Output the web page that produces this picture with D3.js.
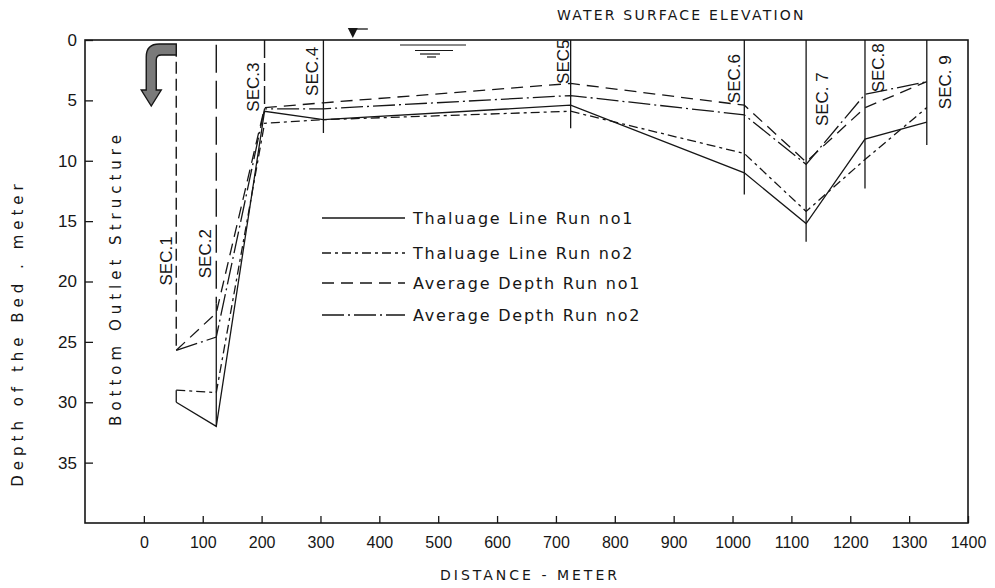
<!DOCTYPE html>
<html><head><meta charset="utf-8">
<script src="https://cdn.jsdelivr.net/npm/d3@7"></script>
<style>body{margin:0;background:#fff} svg{display:block}</style>
</head><body><svg id="c" width="995" height="588"></svg>
<script>
// ---- data ----
const xTicks = [0,100,200,300,400,500,600,700,800,900,1000,1100,1200,1300,1400];
const xTickLabels = ["0","100","200","300","400","500","600","700","800","900","1000","1100","1200","1300","1400"];
const yTicks = [0,5,10,15,20,25,30,35];
const yTickLabels = ["0","5","10","15","20","25","30","35"];
const sectionNames = ["SEC.1","SEC.2","SEC.3","SEC.4","SEC5","SEC.6","SEC. 7","SEC.8","SEC. 9"];
const sectionDist = [55,123,205,305,725,1020,1125,1225,1330];
const sectionBottom = [30,32,5.66,7.7,7.3,12.8,16.7,12.3,8.7];
const thalwegRun1 = [30,32,5.9,6.6,5.4,11.0,15.2,8.2,6.8];
const thalwegRun2 = [29,29.2,6.9,6.6,5.9,9.4,14.2,9.9,5.6];
const avgDepthRun1 = [25.7,22.6,5.6,5.2,3.6,5.4,10.1,5.6,3.45];
const avgDepthRun2 = [25.7,24.6,5.7,5.7,4.6,6.2,10.3,4.5,3.45];
const seriesNames = ["Thaluage Line Run no1","Thaluage Line Run no2","Average Depth Run no1","Average Depth Run no2"];

// ---- chart ----
const svg = d3.select("#c");
const x = d3.scaleLinear().domain([-100,1400]).range([85,968]);
const y = d3.scaleLinear().domain([0,40]).range([40,523]);
const ink = "#161616";

// frame
svg.append("rect").attr("x",x(-100)).attr("y",y(0)).attr("width",x(1400)-x(-100)).attr("height",y(40)-y(0))
  .attr("fill","none").attr("stroke",ink).attr("stroke-width",1.6);

// axes
const ya = svg.append("g").attr("transform",`translate(${x(-100)},0)`)
  .call(d3.axisLeft(y).tickValues(yTicks).tickFormat((d,i)=>yTickLabels[i]).tickSizeInner(-8).tickSizeOuter(0).tickPadding(8));
ya.select(".domain").remove();
ya.selectAll("line").attr("stroke",ink).attr("stroke-width",1.3);
ya.selectAll("text").attr("font-family","Liberation Sans, Arial, sans-serif").attr("font-size",17).attr("fill",ink);

const xa = svg.append("g").attr("transform",`translate(0,${y(40)})`)
  .call(d3.axisBottom(x).tickValues(xTicks).tickFormat((d,i)=>xTickLabels[i]).tickSizeInner(-7).tickSizeOuter(0).tickPadding(14));
xa.select(".domain").remove();
xa.selectAll("line").attr("stroke",ink).attr("stroke-width",1.3);
xa.selectAll("text").attr("font-family","Liberation Sans, Arial, sans-serif").attr("font-size",16).attr("fill",ink);

// axis titles
svg.append("text").attr("x",530).attr("y",580).attr("text-anchor","middle")
  .attr("font-family","DejaVu Sans, sans-serif").attr("font-size",14).attr("letter-spacing",3).attr("fill",ink)
  .text("DISTANCE  -  METER");
svg.append("text").attr("transform","translate(23,333) rotate(-90)").attr("text-anchor","middle")
  .attr("font-family","DejaVu Sans, sans-serif").attr("font-size",15).attr("letter-spacing",5).attr("fill",ink)
  .text("Depth of the Bed . meter");
svg.append("text").attr("transform","translate(121,278) rotate(-90)").attr("text-anchor","middle")
  .attr("font-family","DejaVu Sans, sans-serif").attr("font-size",15).attr("letter-spacing",5).attr("fill",ink)
  .text("Bottom  Outlet  Structure");

// water surface
svg.append("text").attr("x",557).attr("y",20)
  .attr("font-family","DejaVu Sans, sans-serif").attr("font-size",14).attr("letter-spacing",2.2).attr("fill",ink)
  .text("WATER  SURFACE  ELEVATION");
const tx = x(355), ty = y(0);
svg.append("path").attr("d",`M${tx-5},${ty-12}L${tx+5},${ty-12}L${tx},${ty-2}Z`).attr("fill",ink);
svg.append("line").attr("x1",tx+4).attr("x2",tx+15).attr("y1",ty-11).attr("y2",ty-11).attr("stroke",ink).attr("stroke-width",1.3);
[[400,466,5],[415,453,10.5],[420,440,14],[427,436,17]].forEach(d=>{
  svg.append("line").attr("x1",d[0]).attr("x2",d[1]).attr("y1",ty+d[2]).attr("y2",ty+d[2]).attr("stroke",ink).attr("stroke-width",1.2);
});

// section lines
sectionDist.forEach((d,i)=>{
  const sx = x(d);
  if(i===0){
    svg.append("line").attr("x1",sx).attr("x2",sx).attr("y1",y(0.4)).attr("y2",y(25.7)).attr("stroke",ink).attr("stroke-width",1.4).attr("stroke-dasharray","12,5");
    svg.append("line").attr("x1",sx).attr("x2",sx).attr("y1",y(29)).attr("y2",y(30)).attr("stroke",ink).attr("stroke-width",1.3);
  } else if(i===1){
    svg.append("line").attr("x1",sx).attr("x2",sx).attr("y1",y(0.4)).attr("y2",y(21.8)).attr("stroke",ink).attr("stroke-width",1.4).attr("stroke-dasharray","28,8");
    svg.append("line").attr("x1",sx).attr("x2",sx).attr("y1",y(21.8)).attr("y2",y(sectionBottom[i])).attr("stroke",ink).attr("stroke-width",1.3);
  } else if(i===2){
    svg.append("line").attr("x1",sx).attr("x2",sx).attr("y1",y(0)).attr("y2",y(sectionBottom[i])).attr("stroke",ink).attr("stroke-width",1.4).attr("stroke-dasharray","18,5");
  } else {
    svg.append("line").attr("x1",sx).attr("x2",sx).attr("y1",y(0)).attr("y2",y(sectionBottom[i])).attr("stroke",ink).attr("stroke-width",1.3);
  }
});

// section labels: [offset px from line, centre depth]
const labelPos = [[-10,18.3],[-11,17.7],[-12,3.9],[-12,2.6],[-8,1.8],[-10,3.2],[16,4.9],[13,2.3],[18,3.5]];
sectionNames.forEach((n,i)=>{
  const lx = x(sectionDist[i]) + labelPos[i][0], ly = y(labelPos[i][1]);
  svg.append("text").attr("transform",`translate(${lx},${ly}) rotate(-90)`).attr("text-anchor","middle")
    .attr("dy","0.36em")
    .attr("font-family","Liberation Sans, Arial, sans-serif").attr("font-size",17).attr("fill",ink).text(n);
});

// outlet arrow
const ax = x(sectionDist[0]), ay = y(0);
svg.append("path").attr("d",
  `M${ax},${ay+4} L${ax-17},${ay+4} Q${ax-30},${ay+4} ${ax-30},${ay+17} L${ax-30},${ay+50} L${ax-35},${ay+50} L${ax-25},${ay+66} L${ax-15},${ay+50} L${ax-20},${ay+50} L${ax-20},${ay+20} Q${ax-20},${ay+15} ${ax-15},${ay+15} L${ax},${ay+15} Z`)
  .attr("fill","#7a7a7a").attr("stroke",ink).attr("stroke-width",1.4);

// series
const series = [
  {vals:thalwegRun1, dash:null},
  {vals:thalwegRun2, dash:"9,4,3,4"},
  {vals:avgDepthRun1, dash:"12,7"},
  {vals:avgDepthRun2, dash:"22,4,2,4"},
];
const line = d3.line().x((d,i)=>x(sectionDist[i])).y(d=>y(d));
series.forEach(s=>{
  svg.append("path").attr("d",line(s.vals)).attr("fill","none").attr("stroke",ink).attr("stroke-width",1.3)
    .attr("stroke-dasharray",s.dash);
});

// legend
const legY = [218,253,283,315];
series.forEach((s,i)=>{
  svg.append("line").attr("x1",322).attr("x2",405).attr("y1",legY[i]).attr("y2",legY[i])
    .attr("stroke",ink).attr("stroke-width",1.3).attr("stroke-dasharray",s.dash);
  svg.append("text").attr("x",413).attr("y",legY[i]).attr("dy","0.35em")
    .attr("font-family","DejaVu Sans, sans-serif").attr("font-size",16).attr("letter-spacing",1.8).attr("fill",ink)
    .text(seriesNames[i]);
});
</script></body></html>
